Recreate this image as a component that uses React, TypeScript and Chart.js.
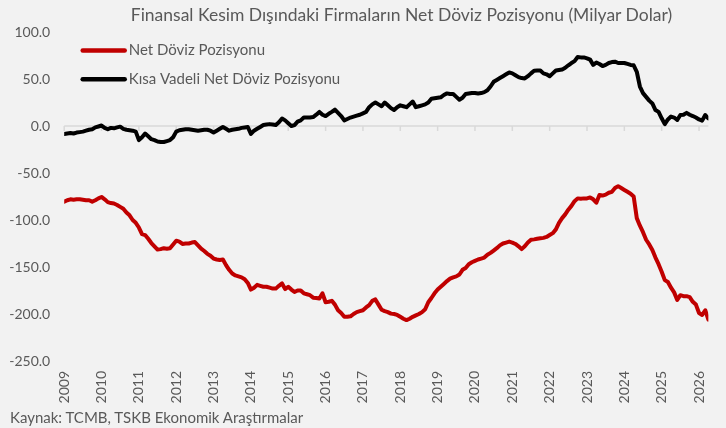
import React, { useEffect, useRef } from 'react';
import { Chart, registerables } from 'chart.js';

Chart.register(...registerables);

const TITLE = 'Finansal Kesim Dışındaki Firmaların Net Döviz Pozisyonu (Milyar Dolar)';
const SOURCE = 'Kaynak: TCMB, TSKB Ekonomik Araştırmalar';

const yearLabels = [
  '2009', '2010', '2011', '2012', '2013', '2014', '2015', '2016', '2017',
  '2018', '2019', '2020', '2021', '2022', '2023', '2024', '2025', '2026',
];

const seriesNames = ['Net Döviz Pozisyonu', 'Kısa Vadeli Net Döviz Pozisyonu'];
const seriesColors = ['#c00000', '#000000'];

// monthly values, Jan 2009 onwards
const netPosition = [
  -80.5, -79, -78, -78.5, -78, -78, -78.5, -79, -79, -80.5, -79, -77,
  -75.5, -78, -81, -82, -82.5, -84, -86, -88, -92, -95, -100, -103,
  -108, -115, -116, -120, -124.5, -128, -131.5, -131, -130, -130.5, -130, -126,
  -122, -123, -125.5, -125, -125, -124, -123.5, -127, -130.5, -133, -136, -138,
  -141, -142, -142.5, -142, -148, -153, -157, -159, -160, -161, -163, -167,
  -174, -172, -169, -170, -171, -171, -172, -173, -173, -170, -167.5, -173.5,
  -171, -174, -176.6, -175, -175, -178, -179, -180, -182.6, -183, -183.6, -178,
  -187.5, -187, -186, -190, -196, -199, -203, -203, -202.5, -200, -198, -197,
  -196, -193, -190.5, -186, -184.5, -190, -195.5, -197, -198, -199.6, -200, -201,
  -203, -205, -206.5, -205, -203, -201.5, -200, -198, -195, -187.5, -183, -178,
  -174, -171, -168, -165, -162.4, -161, -160, -158, -153, -151, -147, -145,
  -143.5, -142, -141, -140, -137, -135, -132.5, -130, -127, -125, -124, -123,
  -124, -125.5, -128, -131, -128, -124, -121, -120.6, -120, -119.5, -119, -118,
  -116, -114, -110, -103, -98, -94, -89, -85, -80, -77, -77.5, -77,
  -77, -76, -78, -81.6, -73.4, -74, -73, -71, -70, -66, -64, -66,
  -68, -70, -72, -75, -98, -106, -113, -121, -126, -132, -140, -147,
  -155, -164, -166, -172, -177, -185, -180, -181, -181, -182, -187, -190,
  -199, -201, -196, -206,
];

const shortTermPosition = [
  -8.5, -8, -7.5, -8, -7, -6.5, -6, -5, -4, -3.5, -1.5, -0.5,
  0.5, -2, -3.5, -2, -2.5, -1.5, -0.7, -3, -4, -4.5, -5, -6,
  -15, -12, -8, -11, -14, -15, -16.5, -17, -17, -16, -15, -12,
  -6, -4.5, -4, -3.5, -3.5, -4, -4.5, -5, -4.5, -4, -4, -5,
  -7, -5, -3, -1, -3, -5, -4, -3.5, -3, -2, -1.5, -1,
  -8.5, -5, -3, -1, 1, 1.5, 2, 1.5, 1, 4, 8, 6,
  3, 0, 1, 4.6, 6, 9, 9, 9, 9.5, 12, 15, 12,
  10.6, 13, 15, 17.4, 14, 10.6, 6, 7.5, 9, 10, 11, 12,
  13.5, 15, 20, 23, 25, 23, 21, 25, 22, 19, 17, 20,
  22, 21, 20, 23, 26, 20, 21, 22, 23, 25, 29, 29.5,
  30, 30.5, 33, 34.7, 34, 34, 31, 28, 30, 34, 34.5, 35,
  35, 34.5, 35, 36, 38, 42, 47, 49, 51, 53, 55, 57,
  56, 54, 52, 51, 50.6, 53, 56, 58.8, 59, 59, 56, 55,
  53, 56, 59, 59.5, 60, 62, 64.6, 67, 69, 73.4, 73, 73,
  72, 70.6, 65, 67.6, 66, 63.8, 65, 67, 68, 68.4, 67, 67,
  67, 66, 65, 64.6, 57.7, 42, 35, 31, 27, 24, 17, 15,
  8.2, 2, 7, 10, 9, 6.4, 11.7, 12, 14, 12, 10.6, 9,
  7, 5.7, 11.7, 8,
];

const yMin = -250;
const yMax = 100;
const yStep = 50;

const TEXT_COLOR = '#595959';
const FONT = 'Lato';

const zeroAxisPlugin = {
  id: 'zeroAxis',
  beforeDatasetsDraw(chart: any) {
    const { ctx } = chart;
    const xs = chart.scales.x;
    const ys = chart.scales.y;
    const y0 = ys.getPixelForValue(0);
    ctx.save();
    ctx.strokeStyle = '#d9d9d9';
    ctx.lineWidth = 1.5;
    ctx.beginPath();
    ctx.moveTo(chart.chartArea.left, y0);
    ctx.lineTo(chart.chartArea.right, y0);
    ctx.stroke();
    xs.ticks.forEach((t: any) => {
      const px = xs.getPixelForValue(t.value);
      ctx.beginPath();
      ctx.moveTo(px, y0);
      ctx.lineTo(px, y0 + 5);
      ctx.stroke();
    });
    ctx.restore();
  },
};

const insideLegendPlugin = {
  id: 'insideLegend',
  afterDraw(chart: any) {
    const { ctx, chartArea } = chart;
    chart.data.datasets.forEach((ds: any, i: number) => {
      const y = chartArea.top + 18.5 + i * 28.7;
      const x0 = chartArea.left + 18.5;
      ctx.save();
      ctx.strokeStyle = ds.borderColor;
      ctx.lineWidth = 4.5;
      ctx.lineCap = 'round';
      ctx.beginPath();
      ctx.moveTo(x0, y);
      ctx.lineTo(x0 + 42, y);
      ctx.stroke();
      ctx.fillStyle = TEXT_COLOR;
      ctx.font = `15px ${FONT}`;
      ctx.textBaseline = 'middle';
      ctx.textAlign = 'left';
      ctx.fillText(ds.label, x0 + 46, y);
      ctx.restore();
    });
  },
};

export default function App() {
  const canvasRef = useRef<HTMLCanvasElement | null>(null);

  useEffect(() => {
    if (!canvasRef.current) return;
    const toPoints = (arr: number[]) => arr.map((v, i) => ({ x: i, y: v }));
    const lastIndex = netPosition.length - 1;
    const chart = new Chart(canvasRef.current, {
      type: 'line',
      data: {
        datasets: [
          {
            label: seriesNames[0],
            data: toPoints(netPosition),
            borderColor: seriesColors[0],
            backgroundColor: seriesColors[0],
            borderWidth: 4,
            pointRadius: 0,
            tension: 0,
            borderJoinStyle: 'round',
            borderCapStyle: 'round',
          },
          {
            label: seriesNames[1],
            data: toPoints(shortTermPosition),
            borderColor: seriesColors[1],
            backgroundColor: seriesColors[1],
            borderWidth: 4,
            pointRadius: 0,
            tension: 0,
            borderJoinStyle: 'round',
            borderCapStyle: 'round',
          },
        ],
      },
      options: {
        responsive: false,
        animation: false,
        layout: { padding: { left: 0, right: 12, top: 32, bottom: 19 } },
        plugins: {
          legend: { display: false },
          tooltip: { enabled: false },
          title: { display: false },
        },
        scales: {
          x: {
            type: 'linear',
            min: 0,
            max: lastIndex,
            afterFit: (s: any) => {
              s.height = 48;
            },
            border: { display: false },
            grid: { display: false, drawTicks: false },
            ticks: {
              stepSize: 12,
              includeBounds: false,
              autoSkip: false,
              maxRotation: 90,
              minRotation: 90,
              padding: 10,
              color: TEXT_COLOR,
              font: { family: FONT, size: 14 },
              callback: (v: any) => yearLabels[Math.round(Number(v) / 12)] ?? '',
            },
          },
          y: {
            min: yMin,
            max: yMax,
            afterFit: (s: any) => {
              s.width = 64.2;
            },
            border: { display: false },
            grid: { display: false, drawTicks: false },
            ticks: {
              stepSize: yStep,
              padding: 14,
              color: TEXT_COLOR,
              font: { family: FONT, size: 14 },
              callback: (v: any) => Number(v).toFixed(1),
            },
          },
        },
      },
      plugins: [zeroAxisPlugin, insideLegendPlugin],
    } as any);
    return () => chart.destroy();
  }, []);

  return (
    <div
      style={{
        position: 'fixed',
        left: 0,
        top: 0,
        width: 726,
        height: 428,
        background: '#f2f2f2',
        overflow: 'hidden',
      }}
    >
      <div
        style={{
          position: 'absolute',
          left: 401.5,
          top: 4,
          transform: 'translateX(-50%)',
          whiteSpace: 'nowrap',
          fontFamily: FONT,
          fontSize: 17.5,
          lineHeight: '22px',
          color: TEXT_COLOR,
        }}
      >
        {TITLE}
      </div>
      <canvas ref={canvasRef} width={726} height={428} style={{ display: 'block' }} />
      <div
        style={{
          position: 'absolute',
          left: 10,
          top: 408,
          whiteSpace: 'nowrap',
          fontFamily: FONT,
          fontSize: 15,
          lineHeight: '19px',
          color: TEXT_COLOR,
        }}
      >
        {SOURCE}
      </div>
    </div>
  );
}
